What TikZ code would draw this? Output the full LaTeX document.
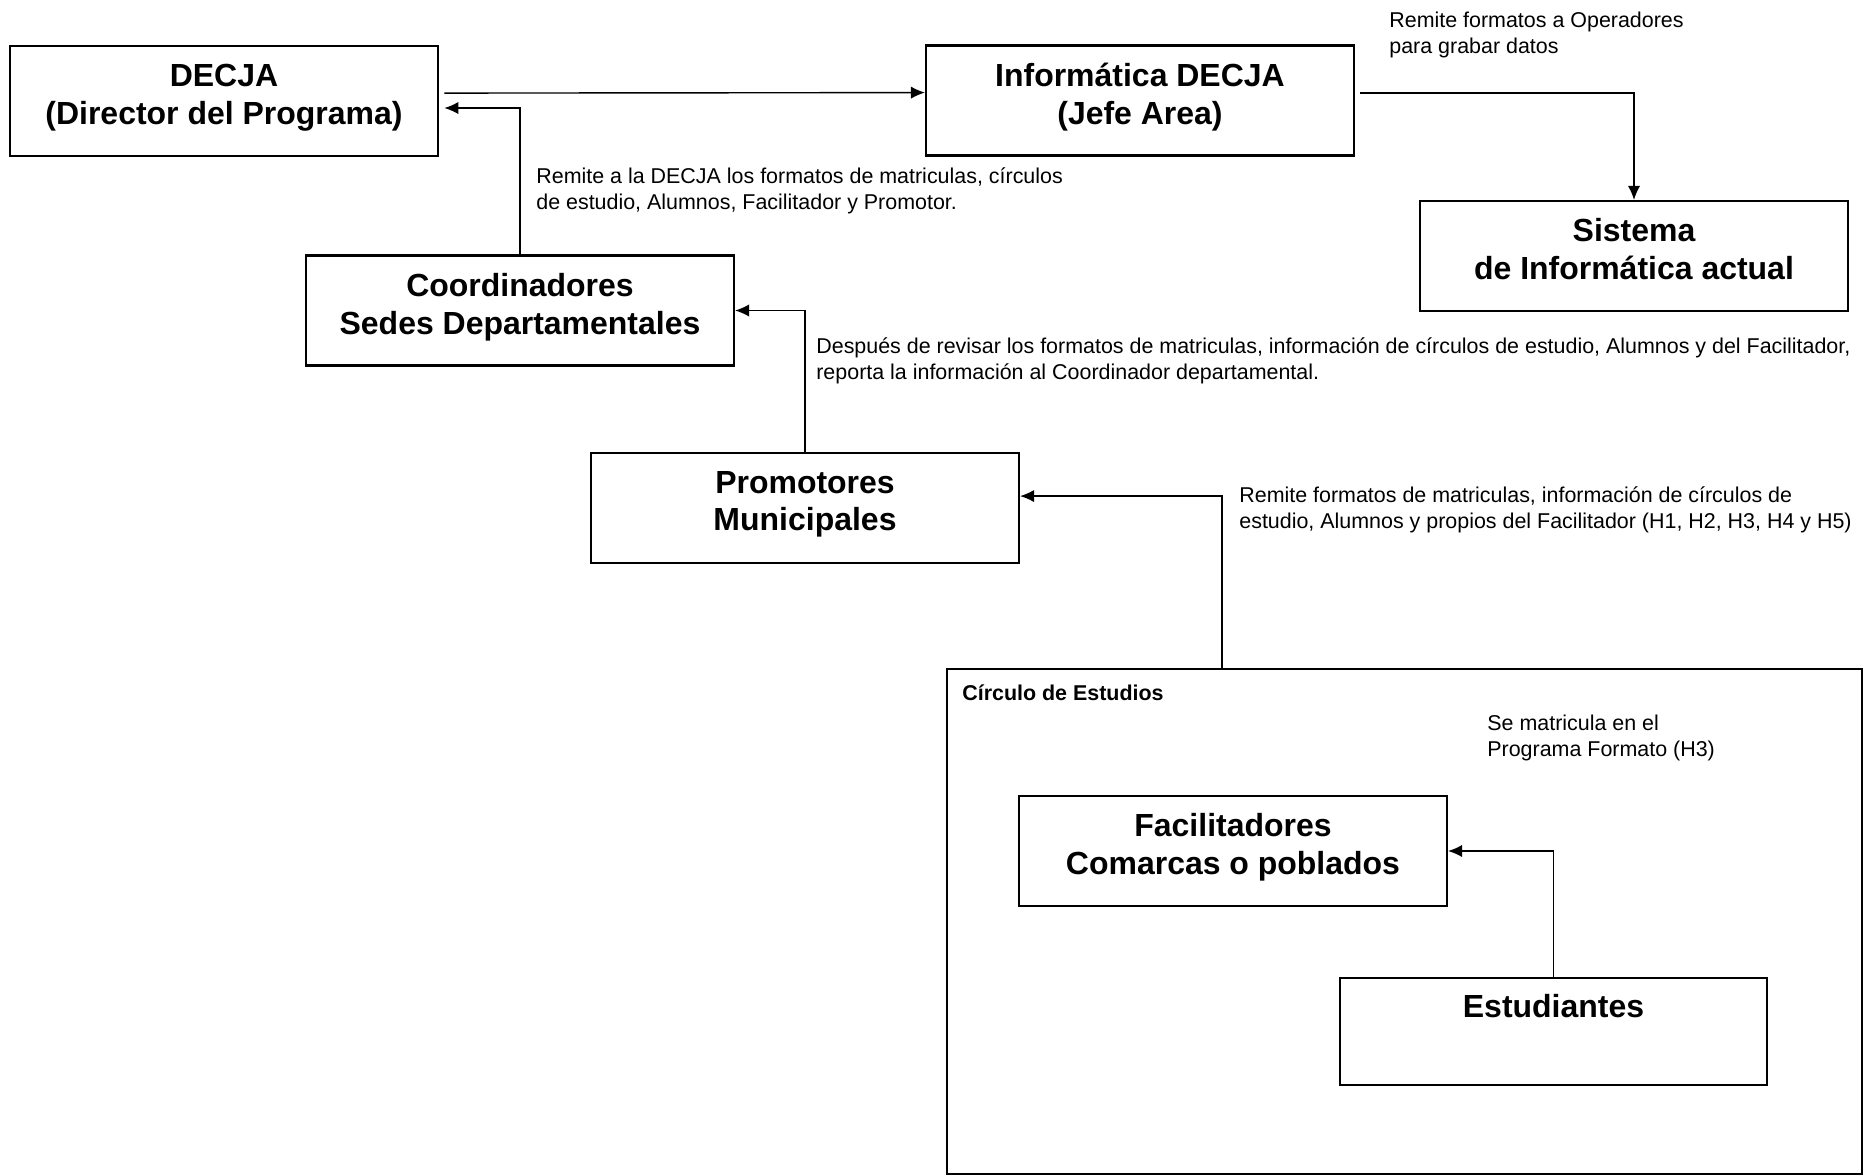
\documentclass[tikz,border=0pt]{standalone}
\usepackage{fontspec}
\setmainfont{Liberation Sans}
\usepackage{tikz}
\usetikzlibrary{arrows.meta}
\tikzset{
  caja/.style={draw=black, line width=1.25pt, rectangle, minimum width=8.56cm, minimum height=2.2cm, align=center, inner sep=0pt, font=\fontsize{18.2}{21.6}\selectfont\bfseries, execute at end node={\rule[-8pt]{0pt}{8pt}}},
  flecha/.style={draw=black, line width=.8pt, -{Latex[length=8pt,width=7pt]}},
  nota/.style={anchor=west, align=left, inner sep=0pt, font=\fontsize{12.2}{14.8}\selectfont},
}

\begin{document}
\begin{tikzpicture} [x=.02cm, y=-.02cm]
\useasboundingbox (0,0) rectangle (1866,1176);
\node[caja] (decja) at (224,101) {DECJA\\(Director del Programa)};
\node[caja] (info) at (1140,100.5) {Informática DECJA\\(Jefe Area)};
\node[caja] (sist) at (1634,256) {Sistema\\de Informática actual};
\node[caja] (coord) at (520,310.5) {Coordinadores\\Sedes Departamentales};
\node[caja] (prom) at (805,508) {Promotores\\Municipales};
\node[caja, line width=1pt, minimum width=18.3cm, minimum height=10.1cm] (circ) at (1404.5,921.5) {};
\node[caja] (facil) at (1233,851) {Facilitadores\\Comarcas o poblados};
\node[caja, minimum width=8.54cm, minimum height=2.14cm] (estud) at (1553.5,1031.5) {Estudiantes\\~};
\draw[flecha] ([xshift=3pt,yshift=4.5pt]decja.east) -- ([yshift=4.5pt]info.west);
\draw[flecha] (coord.north) |- ([xshift=3pt,yshift=-4pt]decja.east);
\draw[flecha] ([xshift=3pt,yshift=4.3pt]info.east) -| (sist.north);
\draw[flecha] (prom.north) |- (coord.east);
\draw[flecha] ([xshift=5.52cm]circ.north west) |- ([yshift=6.8pt]prom.east);
\draw[flecha] (estud.north) |- (facil.east);
\node[nota] (notaops) at (1389,34.5) {Remite formatos a Operadores\\para grabar datos};
\node[nota] (notadecja) at (536,190.5) {Remite a la DECJA los formatos de matriculas, círculos\\de estudio, Alumnos, Facilitador y Promotor.};
\node[nota] (notarev) at (816,360.5) {Después de revisar los formatos de matriculas, información de círculos de estudio, Alumnos y del Facilitador,\\reporta la información al Coordinador departamental.};
\node[nota] (notaprom) at (1239,510) {Remite formatos de matriculas, información de círculos de\\estudio, Alumnos y propios del Facilitador (H1, H2, H3, H4 y H5)};
\node[nota, font=\fontsize{12.2}{14.8}\selectfont\bfseries] (notacirc) at (962,692.5) {Círculo de Estudios};
\node[nota] (notamat) at (1487,738) {Se matricula en el\\Programa Formato (H3)};
\end{tikzpicture}
\end{document}
